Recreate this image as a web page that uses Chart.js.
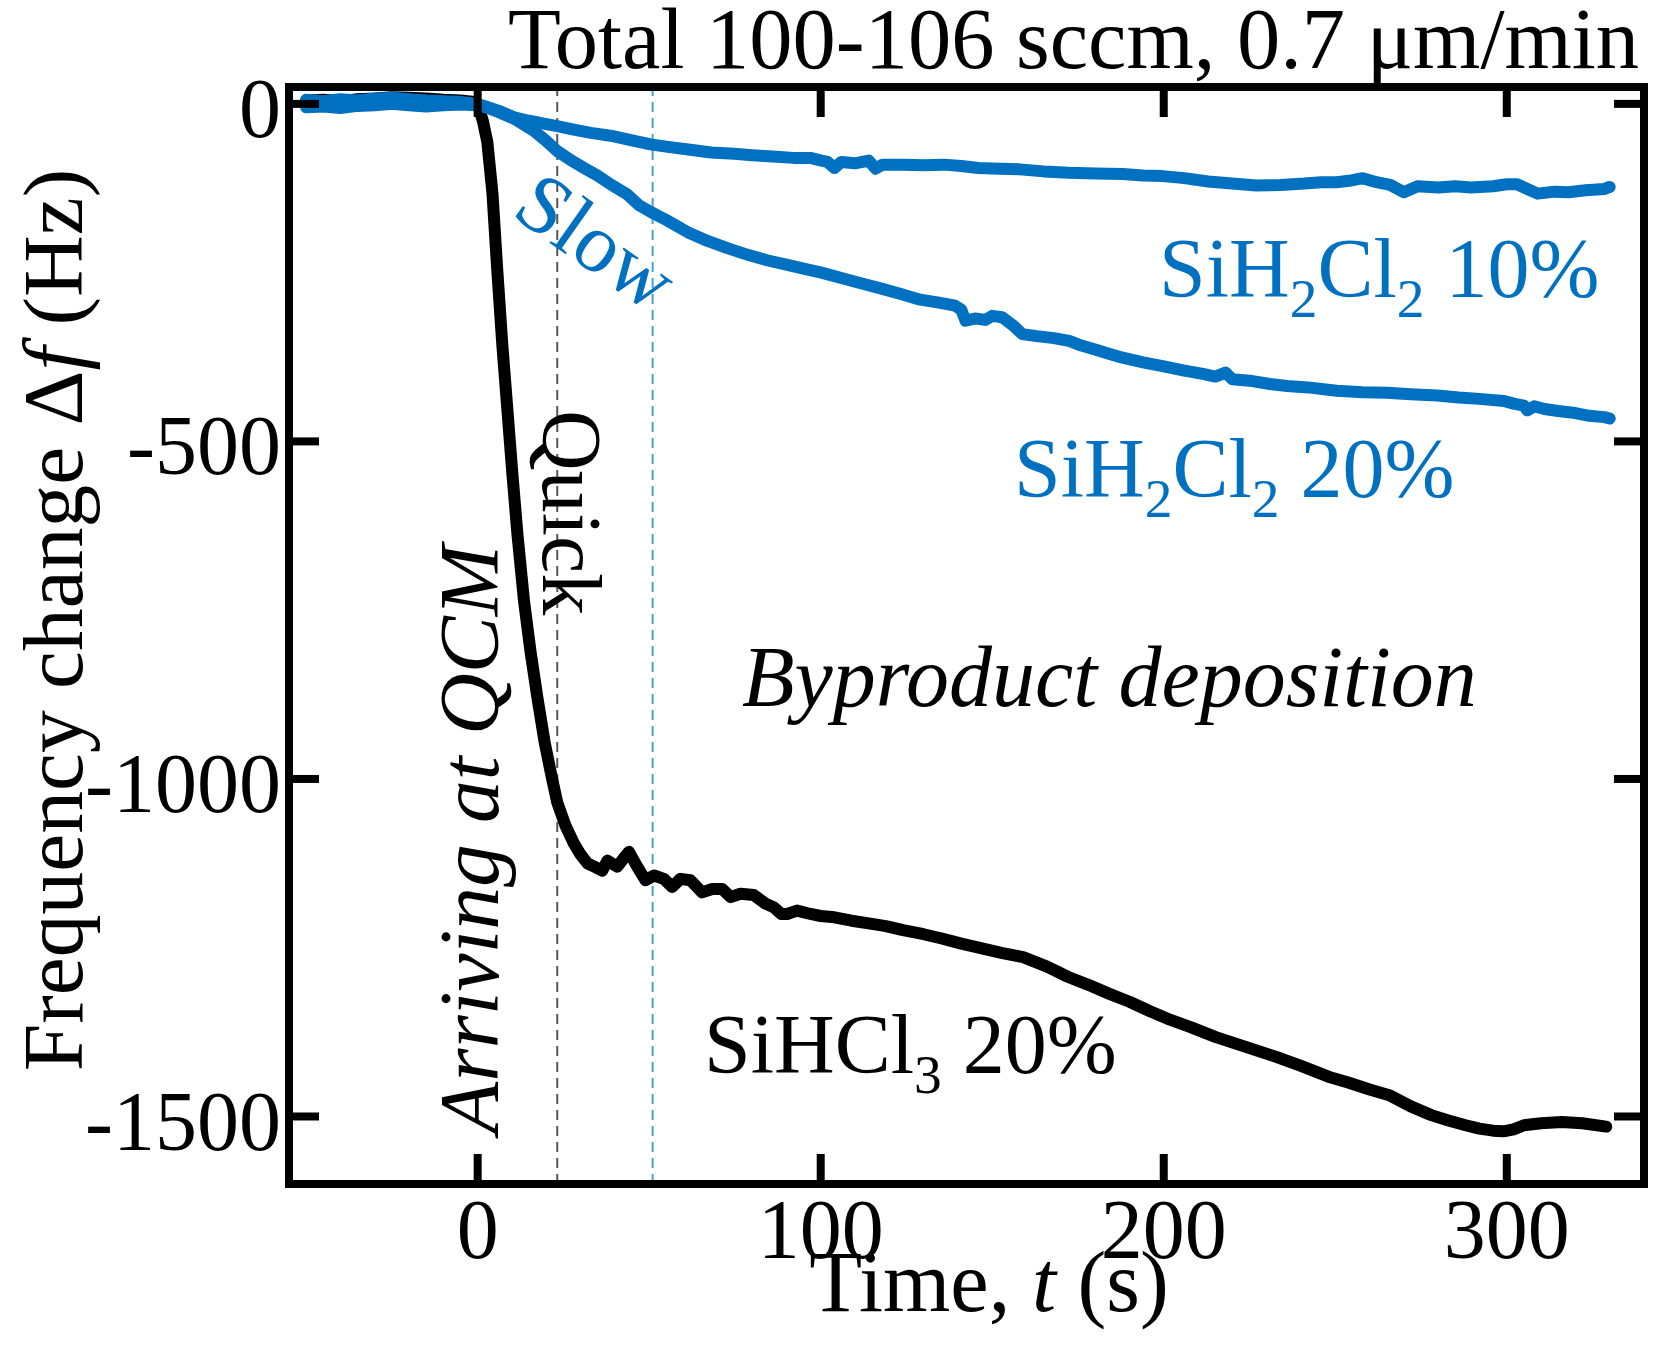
<!DOCTYPE html>
<html><head><meta charset="utf-8">
<script src="https://cdn.jsdelivr.net/npm/chart.js@4.4.1/dist/chart.umd.min.js"></script>
<style>html,body{margin:0;padding:0;background:#fff;}canvas{display:block;}</style>
</head><body>
<canvas id="c" width="1653" height="1350"></canvas>
<script>
// ---- axis ranges & ticks ----
const xRange = [-55, 340];
const yRange = [-1600, 25];
const xTicks = [0, 100, 200, 300];
const yTicks = [0, -500, -1000, -1500];
const markerTimes = [23.2, 51];   // dashed guide lines (s)

// ---- SiHCl3 20% (black) ----
const tSiHCl3 = [-50,-45,-40,-35,-30,-25,-20,-15,-10,-5,-1,0,1.5,2.8,4.3,5.7,7.2,8.6,10.1,11.6,13.5,15.4,17.4,19.5,21.5,23.2,25.5,28,30,32,34,36.3,37.8,40.7,42.5,44.1,46.5,48.9,51.4,54.3,56.7,59.1,62,65.4,68.4,71.3,73.7,76.6,80.5,84,86.3,88.5,90.2,93.1,97,100,104,109,114,119,124,130,135,141,147,153,159,166,172,178,184,190,196,202,208,215,221,227,233,240,248,254,260,266,272,278,283,288,292,296,299,302,305,310,316,322,329];
const dfSiHCl3 = [5,6,4,7,8,10,9,8,6,5,3,0,-25,-56,-132,-245,-358,-449,-547,-638,-736,-811,-879,-945,-995,-1035,-1068,-1095,-1112,-1125,-1130,-1136,-1121,-1130,-1118,-1108,-1130,-1150,-1143,-1148,-1160,-1148,-1150,-1168,-1163,-1163,-1175,-1170,-1172,-1185,-1190,-1200,-1200,-1195,-1200,-1203,-1205,-1210,-1214,-1218,-1224,-1230,-1236,-1244,-1251,-1258,-1264,-1278,-1293,-1305,-1318,-1330,-1344,-1357,-1368,-1382,-1392,-1402,-1412,-1425,-1441,-1450,-1460,-1469,-1485,-1498,-1506,-1513,-1518,-1521,-1522,-1519,-1513,-1510,-1508,-1510,-1515];

// ---- SiH2Cl2 10% (blue) ----
const tDCS10 = [-50,-45,-40,-35,-30,-25,-20,-15,-10,-5,0,3,6,10.6,15,20,23.2,28,33,39.7,45,50.4,56,62,68,74.8,80,86,92,97,100.2,102,104,106,110,114,116,118,124,130,136,141,146,152,158,165,172.4,180,188,194,199.7,206,213,220,227,234,241,246,250.4,254,258,262,266,270,274,280,285,289.5,296,300,303,306,309,314,318,323,328.5,330];
const dfDCS10 = [6,4,7,5,8,9,7,5,4,3,0,-5,-10,-20,-25,-30,-33,-38,-43,-48,-54,-60,-64,-68,-72,-74,-76,-78,-80,-80,-84,-86,-95,-86,-88,-84,-96,-90,-90,-91,-90,-92,-95,-96,-97,-100,-102,-103,-104,-106,-107,-110,-115,-118,-121,-120,-118,-116,-116,-114,-110,-116,-120,-131,-122,-124,-122,-124,-122,-119,-119,-126,-133,-130,-131,-128,-126,-123];

// ---- SiH2Cl2 20% (blue) ----
const tDCS20 = [-50,-45,-40,-35,-30,-25,-20,-15,-10,-5,0,3,6,10.6,16.4,20,23.2,28,31,34.9,39,43.6,47,50.4,55,61.2,67,73,79,84.6,90,95,100.2,106,112,118,123.6,129,134,139.2,141,142.2,145,148,150,152.9,156,158.8,163,168,172.4,176,180,184,188,194,200,206,211.4,215,218,220,225,230.9,236,242,250.4,258,265,272,279.7,286,292,299.2,302,305,306,308,311,315,320,324,328.5,330];
const dfDCS20 = [-5,-4,-6,-3,-2,0,-2,-4,-2,-1,-2,-6,-12,-22,-40,-55,-70,-86,-95,-106,-120,-134,-150,-160,-172,-190,-203,-214,-224,-232,-238,-244,-250,-258,-266,-274,-282,-290,-294,-299,-305,-321,-318,-320,-314,-316,-328,-341,-344,-347,-351,-358,-364,-370,-376,-383,-389,-395,-400,-404,-398,-408,-410,-415,-418,-420,-425,-427,-428,-430,-432,-435,-437,-440,-444,-447,-454,-448,-452,-455,-458,-462,-464,-466];

const BLUE = '#0070C0';
const SERIF = '"Liberation Serif", "Times New Roman", serif';
const FS = 84;
function fnt(size, it){ return (it ? 'italic ' : '') + size + 'px ' + SERIF; }
const pts = (xs, ys) => xs.map((x, i) => ({x, y: ys[i]}));

function drawRich(ctx, parts, x, y, align, color, size){
  size = size || FS;
  let w = 0;
  parts.forEach(p => { ctx.font = fnt(p.sub ? size*0.66 : size, p.it); p.w = ctx.measureText(p.t).width; w += p.w; });
  let cx = align === 'right' ? x - w : align === 'center' ? x - w/2 : x;
  ctx.fillStyle = color; ctx.textAlign = 'left'; ctx.textBaseline = 'alphabetic';
  parts.forEach(p => { ctx.font = fnt(p.sub ? size*0.66 : size, p.it); ctx.fillText(p.t, cx, y + (p.sub ? size*0.24 : 0)); cx += p.w; });
}

const framePlugin = {
  id: 'frame',
  afterDatasetsDraw(chart){
    const ctx = chart.ctx, a = chart.chartArea, xs = chart.scales.x, ys = chart.scales.y;
    ctx.save();
    ctx.strokeStyle = '#000'; ctx.lineWidth = 8; ctx.lineCap = 'butt';
    const L = 30;
    xTicks.forEach(v => { const px = xs.getPixelForValue(v);
      ctx.beginPath(); ctx.moveTo(px, a.bottom); ctx.lineTo(px, a.bottom - L); ctx.stroke();
      ctx.beginPath(); ctx.moveTo(px, a.top); ctx.lineTo(px, a.top + L); ctx.stroke(); });
    yTicks.forEach(v => { const py = ys.getPixelForValue(v);
      ctx.beginPath(); ctx.moveTo(a.left, py); ctx.lineTo(a.left + L, py); ctx.stroke();
      ctx.beginPath(); ctx.moveTo(a.right, py); ctx.lineTo(a.right - L, py); ctx.stroke(); });
    ctx.lineJoin = 'miter';
    ctx.strokeRect(a.left, a.top, a.right - a.left, a.bottom - a.top);
    ctx.restore();
  }
};

const textPlugin = {
  id: 'texts',
  afterDraw(chart){
    const ctx = chart.ctx;
    ctx.save();
    drawRich(ctx, [{t:'Total 100-106 sccm, 0.7 μm/min'}], 1639, 68, 'right', '#000', 86.5);
    drawRich(ctx, [{t:'Time, '},{t:'t',it:1},{t:' (s)'}], 989, 1311, 'center', '#000', 86.5);
    ctx.save(); ctx.translate(82, 620); ctx.rotate(-Math.PI/2);
    drawRich(ctx, [{t:'Frequency change Δ'},{t:'f',it:1},{t:' (Hz)'}], 0, 0, 'center', '#000', 85.5);
    ctx.restore();
    ctx.save(); ctx.translate(592, 248); ctx.rotate(35*Math.PI/180);
    drawRich(ctx, [{t:'Slow'}], 0, 20, 'center', BLUE);
    ctx.restore();
    drawRich(ctx, [{t:'SiH'},{t:'2',sub:1},{t:'Cl'},{t:'2',sub:1},{t:' 10%'}], 1159, 297, 'left', BLUE);
    drawRich(ctx, [{t:'SiH'},{t:'2',sub:1},{t:'Cl'},{t:'2',sub:1},{t:' 20%'}], 1014, 497, 'left', BLUE);
    drawRich(ctx, [{t:'SiHCl'},{t:'3',sub:1},{t:' 20%'}], 704, 1073, 'left', '#000');
    drawRich(ctx, [{t:'Byproduct deposition',it:1}], 742, 706, 'left', '#000', 86);
    ctx.save(); ctx.translate(543, 410); ctx.rotate(Math.PI/2);
    drawRich(ctx, [{t:'Quick'}], 0, 0, 'left', '#000');
    ctx.restore();
    ctx.save(); ctx.translate(498, 1134); ctx.rotate(-Math.PI/2);
    drawRich(ctx, [{t:'Arriving at QCM',it:1}], 0, 0, 'left', '#000', 85.5);
    ctx.restore();
    ctx.restore();
  }
};

function lineDs(label, data, color, order, width){
  return {label, data, borderColor: color, order, borderWidth: width, pointRadius: 0, tension: 0,
          fill: false, borderJoinStyle: 'round', borderCapStyle: 'round'};
}

new Chart(document.getElementById('c'), {
  type: 'line',
  data: {
    datasets: [
      lineDs('SiH2Cl2 10%', pts(tDCS10, dfDCS10), BLUE, 1, 12),
      lineDs('SiH2Cl2 20%', pts(tDCS20, dfDCS20), BLUE, 2, 12),
      lineDs('SiHCl3 20%', pts(tSiHCl3, dfSiHCl3), '#000', 3, 12),
      {label: 'quick end', data: [{x: markerTimes[0], y: yRange[0]}, {x: markerTimes[0], y: yRange[1]}], borderColor: '#555555', borderWidth: 2, borderDash: [10, 6], pointRadius: 0, order: 4},
      {label: 'slow end', data: [{x: markerTimes[1], y: yRange[0]}, {x: markerTimes[1], y: yRange[1]}], borderColor: '#4A9EDC', borderWidth: 2, borderDash: [10, 6], pointRadius: 0, order: 5}
    ]
  },
  options: {
    responsive: false, animation: false, devicePixelRatio: 1,
    layout: {padding: {top: 87, right: 9, left: 0, bottom: 0}},
    plugins: {legend: {display: false}, tooltip: {enabled: false}, title: {display: false}},
    scales: {
      x: {
        type: 'linear', min: xRange[0], max: xRange[1],
        afterBuildTicks: s => { s.ticks = xTicks.map(v => ({value: v})); },
        afterFit: s => { s.height = 166; },
        grid: {display: false, drawTicks: false}, border: {display: false},
        ticks: {font: {family: SERIF, size: FS}, color: '#000', padding: 2, maxRotation: 0, autoSkip: false}
      },
      y: {
        type: 'linear', min: yRange[0], max: yRange[1],
        afterBuildTicks: s => { s.ticks = yTicks.map(v => ({value: v})); },
        afterFit: s => { s.width = 289; },
        grid: {display: false, drawTicks: false}, border: {display: false},
        ticks: {font: {family: SERIF, size: FS}, color: '#000', padding: 8, labelOffset: 11, autoSkip: false,
                callback: v => String(v)}
      }
    }
  },
  plugins: [framePlugin, textPlugin]
});
</script>
</body></html>
